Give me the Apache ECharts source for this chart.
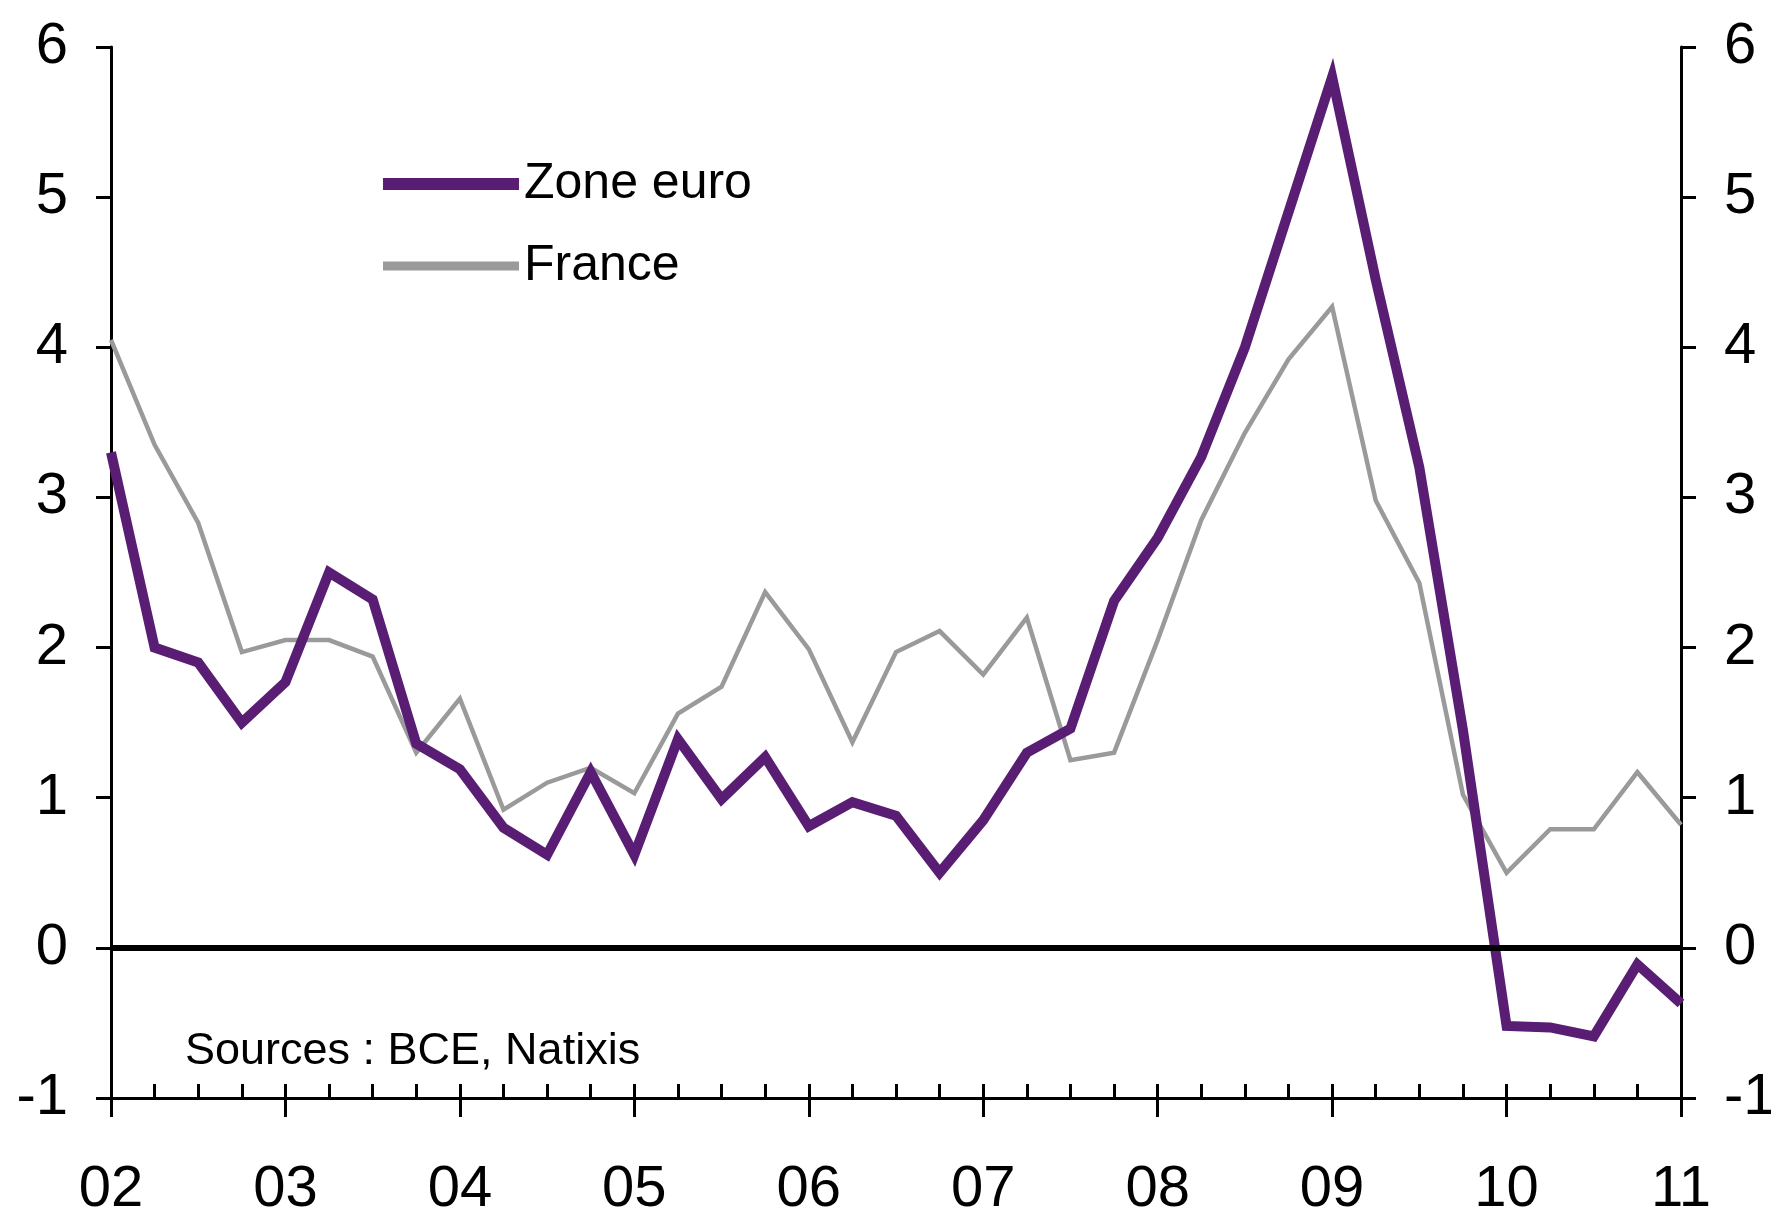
<!DOCTYPE html>
<html>
<head>
<meta charset="utf-8">
<title>Zone euro / France</title>
<script src="https://cdn.jsdelivr.net/npm/echarts@6.0.0/dist/echarts.min.js"></script>
<style>
  html, body { margin: 0; padding: 0; background: #fff; }
  #chartBox { width: 1771px; height: 1215px; }
</style>
</head>
<body>
<div id="chartBox"></div>
<script>
// années affichées sous l'axe (un label tous les 4 trimestres)
const yearLabels = ["02", "03", "04", "05", "06", "07", "08", "09", "10", "11"];

// trimestres 2002T1 -> 2011T1
const quarters = [];
yearLabels.forEach(function (y, i) {
  const nbQ = i === yearLabels.length - 1 ? 1 : 4;
  for (let q = 1; q <= nbQ; q++) quarters.push(y + "T" + q);
});

const zoneEuro = [
  3.3, 2.0, 1.9, 1.5, 1.77, 2.5, 2.32, 1.36, 1.19, 0.8, 0.62, 1.17, 0.62,
  1.39, 0.99, 1.27, 0.81, 0.97, 0.88, 0.5, 0.85, 1.3, 1.46, 2.31, 2.73,
  3.27, 4.0, 4.9, 5.8, 4.45, 3.2, 1.45, -0.52, -0.53, -0.59, -0.11, -0.37
];
const france = [
  4.05, 3.35, 2.83, 1.97, 2.05, 2.05, 1.94, 1.3, 1.66, 0.92, 1.1, 1.2, 1.03,
  1.56, 1.74, 2.37, 1.99, 1.37, 1.97, 2.11, 1.82, 2.2, 1.25, 1.3, 2.05,
  2.85, 3.43, 3.92, 4.27, 2.98, 2.43, 1.02, 0.5, 0.79, 0.79, 1.17, 0.82
];
const yTicks = { min: -1, max: 6, interval: 1 };

const FONT = "'Liberation Sans', Arial, sans-serif";
const isYear = function (idx) { return idx % 4 === 0; };

const yAxisBase = {
  type: "value",
  min: yTicks.min,
  max: yTicks.max,
  interval: yTicks.interval,
  axisLine: { show: true, lineStyle: { color: "#000", width: 3 } },
  axisTick: { show: true, inside: false, length: 15, lineStyle: { color: "#000", width: 3 } },
  axisLabel: { color: "#000", fontSize: 58, fontFamily: FONT, margin: 43 },
  splitLine: { show: false },
};

let option = {
  animation: false,
  backgroundColor: "#fff",
  grid: { left: 111, right: 90, top: 47, bottom: 117, outerBoundsMode: "none", containLabel: false },
  title: {
    text: "Sources : BCE, Natixis",
    left: 180,
    top: 1024,
    textStyle: { color: "#000", fontSize: 45, fontWeight: "normal", fontFamily: FONT },
  },
  legend: [
    {
      data: ["Zone euro"],
      left: 378,
      top: 151,
      icon: "rect",
      itemWidth: 136,
      itemHeight: 12,
      selectedMode: false,
      textStyle: { color: "#000", fontSize: 50, fontFamily: FONT, lineHeight: 56 },
    },
    {
      data: ["France"],
      left: 378,
      top: 233,
      icon: "rect",
      itemWidth: 136,
      itemHeight: 9,
      selectedMode: false,
      textStyle: { color: "#000", fontSize: 50, fontFamily: FONT, lineHeight: 56 },
    },
  ],
  xAxis: [
    {
      // petits tirets trimestriels vers l'intérieur
      type: "category",
      data: quarters,
      boundaryGap: false,
      position: "bottom",
      axisLine: { show: true, onZero: false, lineStyle: { color: "#000", width: 3 } },
      axisTick: { show: true, inside: true, interval: 0, length: 14, lineStyle: { color: "#000", width: 3 } },
      axisLabel: { show: false },
      splitLine: { show: false },
    },
    {
      // grands tirets annuels + labels
      type: "category",
      data: quarters,
      boundaryGap: false,
      position: "bottom",
      axisLine: { show: false, onZero: false },
      axisTick: {
        show: true,
        inside: false,
        interval: function (idx) { return isYear(idx); },
        length: 19,
        lineStyle: { color: "#000", width: 3 },
      },
      axisLabel: {
        show: true,
        interval: function (idx) { return isYear(idx); },
        formatter: function (val) { return val.slice(0, 2); },
        color: "#000",
        fontSize: 58,
        fontFamily: FONT,
        margin: 63,
      },
      splitLine: { show: false },
    },
  ],
  yAxis: [
    Object.assign({}, yAxisBase, { position: "left" }),
    Object.assign({}, yAxisBase, { position: "right" }),
  ],
  series: [
    {
      name: "France",
      type: "line",
      data: france,
      color: "#9a9a9a",
      symbol: "none",
      lineStyle: { color: "#9a9a9a", width: 4.5, join: "miter" },
      z: 2,
    },
    {
      name: "Zone euro",
      type: "line",
      data: zoneEuro,
      color: "#5a1d74",
      symbol: "none",
      lineStyle: { color: "#5a1d74", width: 10, join: "miter", miterLimit: 10 },
      z: 3,
    },
    {
      // ligne du zéro
      type: "line",
      data: [],
      z: 5,
      markLine: {
        silent: true,
        symbol: "none",
        label: { show: false },
        lineStyle: { color: "#000", width: 6, type: "solid" },
        data: [{ yAxis: 0 }],
      },
    },
  ],
};

let myChart = echarts.init(document.getElementById("chartBox"));
myChart.setOption(option);
</script>
</body>
</html>
